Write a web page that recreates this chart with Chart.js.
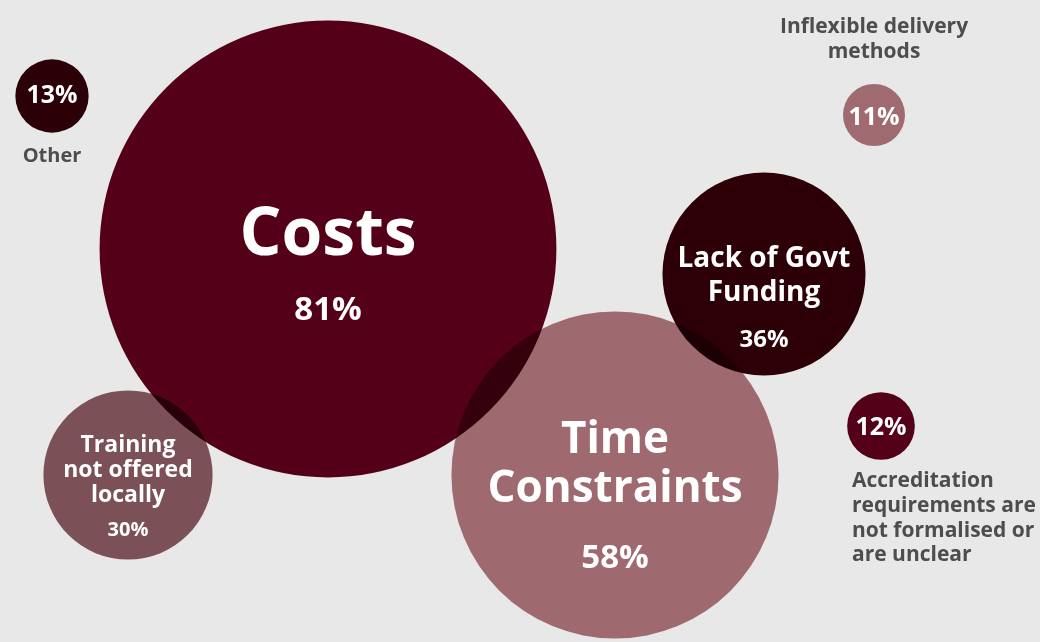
<!DOCTYPE html>
<html>
<head>
<meta charset="utf-8">
<script src="https://cdn.jsdelivr.net/npm/chart.js@4/dist/chart.umd.min.js"></script>
<style>
    html, body { margin:0; padding:0; background:#e8e8e8; }
    #wrap { width:1040px; height:642px; position:relative; }
</style>
</head>
<body>
<div id="wrap"><canvas id="chart-barriers"></canvas></div>
<script>
// Barriers to training - share of respondents (%)
const categories = ['Costs', 'Time Constraints', 'Lack of Govt Funding', 'Training not offered locally',
    'Other', 'Inflexible delivery methods', 'Accreditation requirements are not formalised or are unclear'];
const percentValues = [81, 58, 36, 30, 13, 11, 12];
// bubble placement on the canvas grid (x across, y down)
const posX = [328, 615, 764, 128, 52, 874, 881];
const posY = [249, 475, 274, 475, 96, 115, 426];

const bubbleColors = ['#550019', '#9e6a6f', '#2d0008', '#7b5157', '#2b0006', '#a06b70', '#540019'];
const PX_PER_PCT = 2.82;

// text lines for each bubble: [text, dy from centre to baseline, size, weight, colour, align, dx]
const WHITE = '#ffffff', GREY = '#4d4d4d';
const labelLayout = [
    [['Costs', 6, 66, 700, WHITE], ['81%', 71, 33, 700, WHITE]],
    [['Time', -22, 44, 700, WHITE], ['Constraints', 27, 44, 700, WHITE], ['58%', 93, 33, 700, WHITE]],
    [['Lack of Govt', -7, 28, 700, WHITE], ['Funding', 27, 28, 700, WHITE], ['36%', 73, 24, 700, WHITE]],
    [['Training', -23, 23, 700, WHITE], ['not offered', 2, 23, 700, WHITE], ['locally', 27, 23, 700, WHITE], ['30%', 61, 20, 700, WHITE]],
    [['13%', 7, 25, 700, WHITE], ['Other', 66, 20, 700, GREY]],
    [['Inflexible delivery', -82, 21, 700, GREY], ['methods', -57, 21, 700, GREY], ['11%', 10, 25, 700, WHITE]],
    [['12%', 9, 25, 700, WHITE],
     ['Accreditation', 61, 21, 700, GREY, 'left', -29], ['requirements are', 86, 21, 700, GREY, 'left', -29],
     ['not formalised or', 111, 21, 700, GREY, 'left', -29], ['are unclear', 135, 21, 700, GREY, 'left', -29]]
];

const multiplyPlugin = {
    id: 'multiply',
    beforeDatasetsDraw(chart) {
        chart.ctx.save();
        chart.ctx.globalCompositeOperation = 'multiply';
    },
    afterDatasetsDraw(chart) {
        chart.ctx.restore();
    }
};

const labelPlugin = {
    id: 'bubbleLabels',
    afterDraw(chart) {
        const ctx = chart.ctx;
        const meta = chart.getDatasetMeta(0);
        ctx.save();
        meta.data.forEach((pt, i) => {
            labelLayout[i].forEach(l => {
                const [text, dy, size, weight, color, align, dx] = l;
                ctx.font = `${weight} ${size}px "Open Sans", sans-serif`;
                ctx.fillStyle = color;
                ctx.textAlign = align || 'center';
                ctx.textBaseline = 'alphabetic';
                ctx.fillText(text, pt.x + (dx || 0), pt.y + dy);
            });
        });
        ctx.restore();
    }
};

new Chart(document.getElementById('chart-barriers'), {
    type: 'bubble',
    data: {
        labels: categories,
        datasets: [{
            data: categories.map((c, i) => ({ x: posX[i], y: posY[i], v: percentValues[i] })),
            backgroundColor: bubbleColors,
            borderWidth: 0,
            radius: ctx => ctx.raw ? ctx.raw.v * PX_PER_PCT : 0,
            hoverRadius: 0,
            clip: false
        }]
    },
    options: {
        responsive: true,
        maintainAspectRatio: false,
        animation: false,
        layout: { padding: 0, autoPadding: false },
        scales: {
            x: { display: false, min: 0, max: 1040 },
            y: { display: false, min: 0, max: 642, reverse: true }
        },
        plugins: {
            legend: { display: false },
            tooltip: { enabled: false }
        }
    },
    plugins: [multiplyPlugin, labelPlugin]
});
</script>
</body>
</html>
